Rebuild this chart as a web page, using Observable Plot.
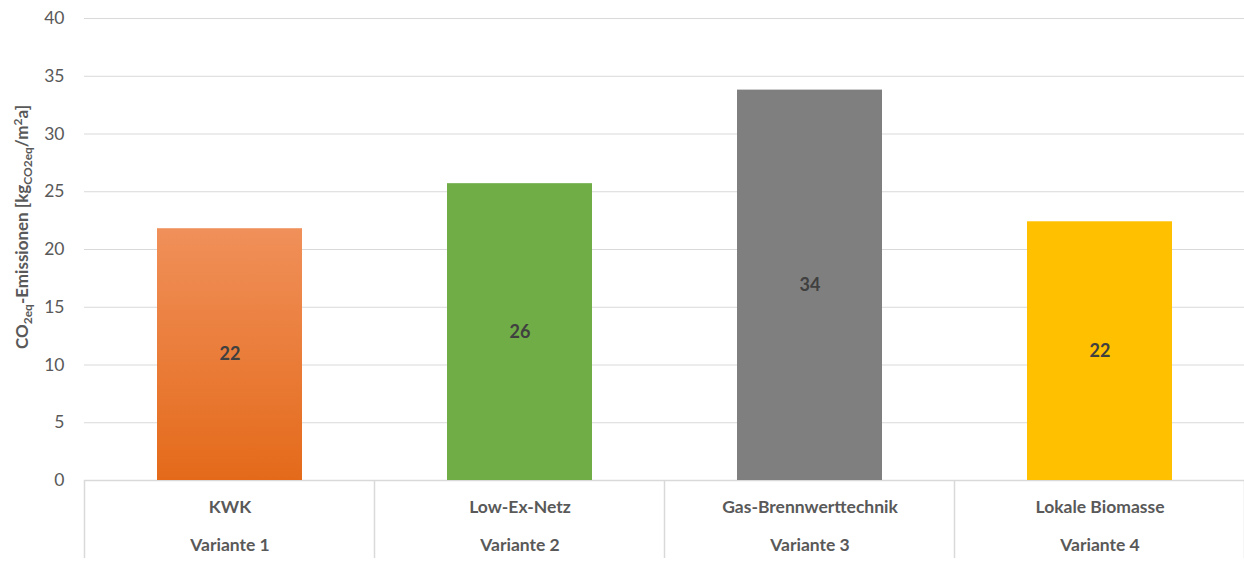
<!DOCTYPE html>
<html><head><meta charset="utf-8">
<script src="https://cdn.jsdelivr.net/npm/d3@7"></script>
<script src="https://cdn.jsdelivr.net/npm/@observablehq/plot@0.6"></script>
<style>
html,body{margin:0;padding:0;background:#fff;}
svg{display:block;}
</style></head>
<body><div id="chart"></div>
<script>
const categories = ["KWK", "Low-Ex-Netz", "Gas-Brennwerttechnik", "Lokale Biomasse"];
const variants = ["Variante 1", "Variante 2", "Variante 3", "Variante 4"];
const values = [21.8, 25.7, 33.8, 22.4];
const labels = ["22", "26", "34", "22"];
const colors = ["url(#orangeGrad)", "#70AD47", "#7F7F7F", "#FFC000"];
const yTicks = [0, 5, 10, 15, 20, 25, 30, 35, 40];

const data = categories.map((c, i) => ({cat: c, variant: variants[i], value: values[i], label: labels[i], color: colors[i]}));
const font = "Lato, 'Open Sans', sans-serif";

const plot = Plot.plot({
  width: 1244, height: 564,
  marginTop: 18, marginBottom: 84, marginLeft: 84, marginRight: 0,
  style: {fontFamily: font, background: "#fff"},
  x: {domain: categories, paddingInner: 0.5, paddingOuter: 0.25, axis: null},
  y: {domain: [0, 40], axis: null},
  marks: [
    Plot.ruleY(yTicks.filter(t => t > 0), {stroke: "#d9d9d9", strokeWidth: 1.2}),
    Plot.ruleY([0], {stroke: "#d9d9d9", strokeWidth: 1.5}),
    Plot.axisY({ticks: yTicks, tickSize: 0, tickPadding: 20, fontSize: 17.5, fill: "#595959", label: null}),
    Plot.barY(data, {x: "cat", y: "value", fill: d => d.color, style: "filter: drop-shadow(1px 1px 1.5px rgba(0,0,0,0.3))"}),
    Plot.text(data, {x: "cat", y: d => d.value / 2, text: "label", fontSize: 18, fontWeight: "bold", fill: "#404040"}),
    Plot.text(data, {x: "cat", frameAnchor: "bottom", dy: 32, text: "cat", fontSize: 17.5, fontWeight: "bold", fill: "#595959"}),
    Plot.text(data, {x: "cat", frameAnchor: "bottom", dy: 70, text: "variant", fontSize: 17.5, fontWeight: "bold", fill: "#595959"})
  ]
});
document.getElementById("chart").appendChild(plot);

const svg = d3.select(plot);
// gradient for orange bar
const defs = svg.insert("defs", ":first-child");
const g = defs.append("linearGradient").attr("id", "orangeGrad").attr("x1", 0).attr("y1", 0).attr("x2", 0).attr("y2", 1);
g.append("stop").attr("offset", "0%").attr("stop-color", "#F0905A");
g.append("stop").attr("offset", "100%").attr("stop-color", "#E46A1A");

// category dividers below axis, from the x scale
const xs = plot.scale("x");
const ys = plot.scale("y");
const step = xs.step;
const y0 = ys.apply(0);
const bounds = categories.map(c => xs.apply(c) - (step - xs.bandwidth) / 2);
bounds.push(bounds[bounds.length - 1] + step);
svg.append("g").selectAll("line").data(bounds).join("line")
  .attr("x1", d => d).attr("x2", d => d)
  .attr("y1", y0).attr("y2", y0 + 78)
  .attr("stroke", "#d9d9d9").attr("stroke-width", 1.5);

// y-axis title with subscripts
const title = svg.append("text")
  .attr("transform", `translate(28,${(ys.apply(40) + y0) / 2 - 22}) rotate(-90)`)
  .attr("text-anchor", "middle")
  .attr("font-family", font).attr("font-size", 17).attr("font-weight", "bold").attr("fill", "#595959");
title.append("tspan").text("CO");
title.append("tspan").attr("font-size", 12).attr("dy", 4).text("2eq");
title.append("tspan").attr("dy", -4).text("-Emissionen [kg");
title.append("tspan").attr("font-size", 12).attr("dy", 4).text("CO2eq");
title.append("tspan").attr("dy", -4).text("/m");
title.append("tspan").attr("font-size", 12).attr("dy", -6).text("2");
title.append("tspan").attr("dy", 6).text("a]");
</script>
</body></html>
